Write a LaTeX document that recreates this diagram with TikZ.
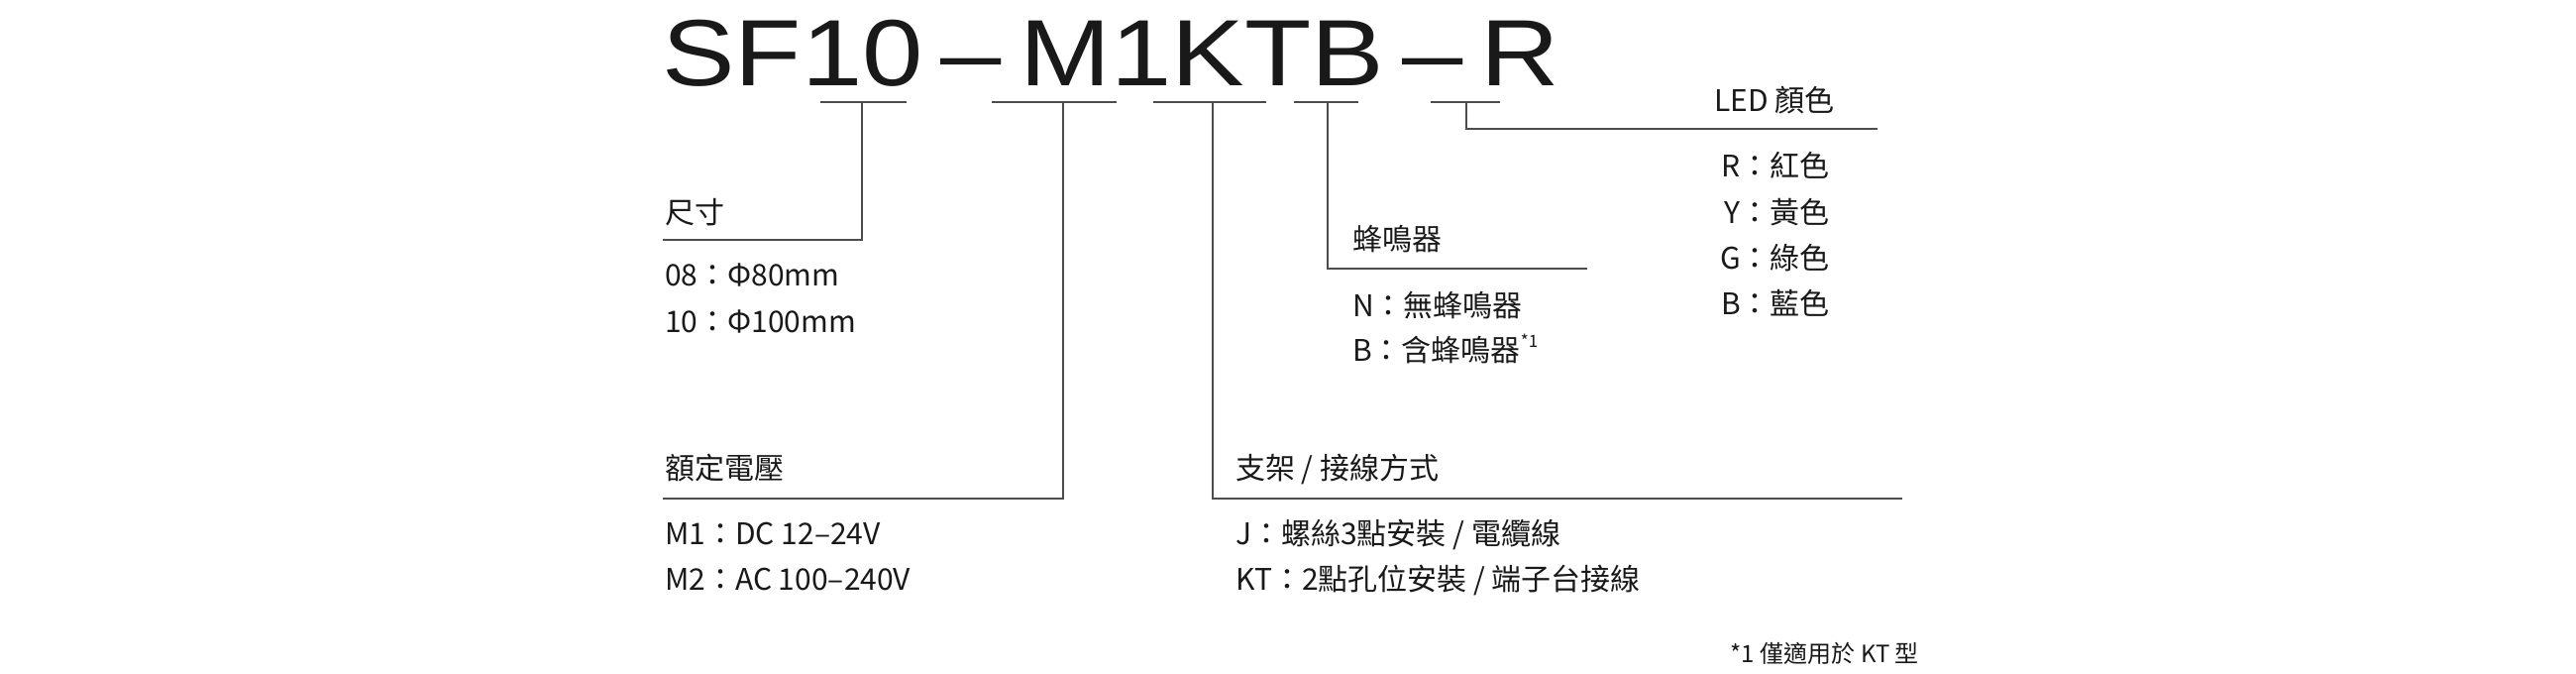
\documentclass[tikz,border=0pt]{standalone}
\usepackage{fontspec}
\setmainfont{Noto Sans CJK TC}
\newfontfamily\titlefont{Liberation Sans}
\begin{document}
\begin{tikzpicture}[x=1pt,y=-1pt,
  ln/.style={draw=black!70,line width=2pt},
  lab/.style={anchor=base west,inner sep=0pt,font=\fontsize{30}{36}\selectfont,text=black!90},
  labr/.style={anchor=base east,inner sep=0pt,font=\fontsize{30}{36}\selectfont,text=black!90}]
\useasboundingbox (0,0) rectangle (2600,680);
\node[anchor=base west,inner sep=0pt,font=\titlefont\fontsize{95}{100}\selectfont,text=black!90] (title) at (668,86) {\scalebox{1.16}[1]{SF10\,–\,M1KTB\,–\,R}};
% underlines
\foreach \a/\b/\n in {828/915/u1,1001/1127/u2,1164/1278/u3,1306/1371/u4,1444/1514/u5}{
  \coordinate (\n a) at (\a,103); \coordinate (\n b) at (\b,103);
  \draw[ln] (\n a) -- (\n b);}
\coordinate (c1) at (870,242); \coordinate (e1) at (669,242);
\coordinate (c2) at (1073,503); \coordinate (e2) at (669,503);
\coordinate (c3) at (1224,503); \coordinate (e3) at (1920,503);
\coordinate (c4) at (1340,271); \coordinate (e4) at (1602,271);
\coordinate (c5) at (1480,130); \coordinate (e5) at (1895,130);
\draw[ln] (870,103) -- (c1) -- (e1);
\draw[ln] (1073,103) -- (c2) -- (e2);
\draw[ln] (1224,103) -- (c3) -- (e3);
\draw[ln] (1340,103) -- (c4) -- (e4);
\draw[ln] (1480,103) -- (c5) -- (e5);
% size
\node[lab] (size) at (671,225) {尺寸};
\node[lab] (s1) at (671,288) {08：Φ80mm};
\node[lab] (s2) at (671,335) {10：Φ100mm};
% voltage
\node[lab] (volt) at (671,483) {額定電壓};
\node[lab] (v1) at (671,549) {M1：DC 12–24V};
\node[lab] (v2) at (671,595) {M2：AC 100–240V};
% mounting
\node[lab] (mnt) at (1247,483) {支架 / 接線方式};
\node[lab] (m1) at (1247,549) {J：螺絲3點安裝 / 電纜線};
\node[lab] (m2) at (1247,595) {KT：2點孔位安裝 / 端子台接線};
% buzzer
\node[lab] (buz) at (1365,252) {蜂鳴器};
\node[lab] (b1) at (1365,319) {N：無蜂鳴器};
\node[lab] (b2) at (1365,364) {B：含蜂鳴器\raisebox{0.45em}{\fontsize{17}{20}\selectfont *1}};
% LED
\node[labr] (led) at (1852,112) {LED 顏色};
\node[labr] (l1) at (1847,178) {R：紅色};
\node[labr] (l2) at (1847,225) {Y：黃色};
\node[labr] (l3) at (1847,271) {G：綠色};
\node[labr] (l4) at (1847,317) {B：藍色};
% footnote
\node[anchor=base east,inner sep=0pt,font=\fontsize{24}{28}\selectfont,text=black!90] (fn) at (1937,668) {*1 僅適用於 KT 型};
\end{tikzpicture}
\end{document}
